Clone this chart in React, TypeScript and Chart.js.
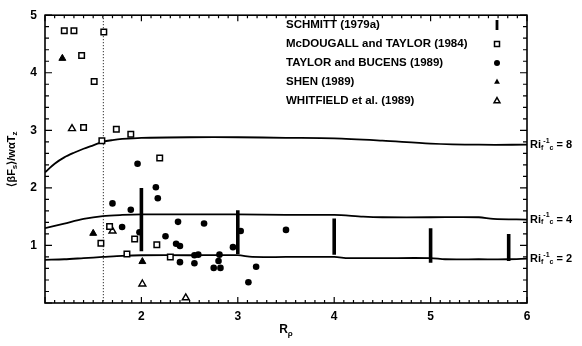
import React, { useEffect, useRef } from 'react';
import { Chart, registerables } from 'chart.js';

Chart.register(...registerables);

// Critical Richardson-number curves (R_rho vs flux ratio)
const ri8X = [1.0, 1.1, 1.2, 1.3, 1.4, 1.5, 1.6, 1.7, 1.8, 2.0, 2.5, 3.0, 3.5, 4.0, 4.5, 5.0, 5.5, 6.0];
const ri8Y = [2.27, 2.42, 2.53, 2.61, 2.68, 2.74, 2.80, 2.83, 2.85, 2.87, 2.88, 2.88, 2.87, 2.86, 2.82, 2.77, 2.75, 2.75];
const ri4X = [1.0, 1.2, 1.4, 1.6, 1.8, 2.0, 2.5, 3.0, 3.5, 4.0, 4.3, 4.5, 5.0, 5.5, 5.65, 6.0];
const ri4Y = [1.30, 1.38, 1.46, 1.51, 1.53, 1.54, 1.54, 1.54, 1.53, 1.53, 1.50, 1.49, 1.49, 1.49, 1.46, 1.45];
const ri2X = [1.0, 1.2, 1.4, 1.6, 1.8, 2.0, 2.5, 3.0, 3.15, 3.5, 4.0, 4.15, 4.5, 5.0, 5.15, 5.5, 5.8, 6.0];
const ri2Y = [0.75, 0.76, 0.78, 0.80, 0.82, 0.83, 0.83, 0.83, 0.80, 0.80, 0.80, 0.78, 0.78, 0.78, 0.76, 0.76, 0.76, 0.77];
const curveLabels = ['8', '4', '2'];

// SCHMITT (1979a) ranges
const schmittX = [2.0, 3.0, 4.0, 5.0, 5.81];
const schmittLow = [0.90, 0.85, 0.84, 0.70, 0.73];
const schmittHigh = [2.00, 1.61, 1.47, 1.30, 1.20];

// McDOUGALL and TAYLOR (1984)
const mcdX = [1.20, 1.30, 1.61, 1.38, 1.51, 1.40, 1.74, 1.89, 1.59, 2.19, 1.58, 1.67, 1.93, 1.85, 2.16, 2.30];
const mcdY = [4.73, 4.73, 4.71, 4.30, 3.85, 3.05, 3.02, 2.93, 2.82, 2.52, 1.04, 1.33, 1.11, 0.85, 1.01, 0.80];

// TAYLOR and BUCENS (1989)
const tbX = [1.96, 2.15, 2.17, 1.70, 1.89, 1.80, 1.98, 2.38, 2.65, 2.25, 2.36, 2.40, 2.40, 2.55, 2.59, 2.55, 2.81, 2.80, 2.75, 2.82, 2.95, 3.03, 3.11, 3.19, 3.50];
const tbY = [2.42, 2.01, 1.82, 1.73, 1.62, 1.32, 1.23, 1.41, 1.38, 1.16, 1.03, 0.99, 0.71, 0.83, 0.84, 0.69, 0.84, 0.73, 0.61, 0.61, 0.97, 1.25, 0.36, 0.63, 1.27];

// SHEN (1989)
const shenX = [1.18, 1.50, 2.01];
const shenY = [4.25, 1.21, 0.72];

// WHITFIELD et al. (1989)
const whitX = [1.28, 1.70, 2.01, 2.46];
const whitY = [3.03, 1.25, 0.33, 0.09];

const legendLabels = [
  'SCHMITT (1979a)',
  'McDOUGALL and TAYLOR (1984)',
  'TAYLOR and BUCENS (1989)',
  'SHEN (1989)',
  'WHITFIELD et al. (1989)',
];
const legendMarkers = ['bar', 'square', 'circle', 'tri', 'otri'];

const xTickValues = [1, 2, 3, 4, 5, 6];
const yTickValues = [0, 1, 2, 3, 4, 5];
const dividerX = 1.6;

const FAMILY = "'Liberation Sans', Arial, sans-serif";
const INK = '#000';

const pts = (xs: number[], ys: number[]) => xs.map((x, i) => ({ x, y: ys[i] }));

type Part = { t: string; size: number; dy: number };

function drawRich(ctx: CanvasRenderingContext2D, parts: Part[], x: number, y: number, align: 'left' | 'center') {
  let total = 0;
  for (const p of parts) {
    ctx.font = `bold ${p.size}px ${FAMILY}`;
    total += ctx.measureText(p.t).width;
  }
  let cx = align === 'center' ? x - total / 2 : x;
  ctx.textAlign = 'left';
  ctx.textBaseline = 'middle';
  for (const p of parts) {
    ctx.font = `bold ${p.size}px ${FAMILY}`;
    ctx.fillText(p.t, cx, y + p.dy);
    cx += ctx.measureText(p.t).width;
  }
}

function drawMarker(ctx: CanvasRenderingContext2D, kind: string, x: number, y: number) {
  ctx.save();
  ctx.fillStyle = INK;
  ctx.strokeStyle = INK;
  ctx.lineWidth = 1.5;
  if (kind === 'bar') {
    ctx.fillRect(x - 1.4, y - 5, 2.8, 10);
  } else if (kind === 'square') {
    ctx.strokeRect(x - 2.5, y - 2.5, 5, 5);
  } else if (kind === 'circle') {
    ctx.beginPath();
    ctx.arc(x, y, 3, 0, Math.PI * 2);
    ctx.fill();
  } else {
    const r = 3.4;
    ctx.beginPath();
    ctx.moveTo(x, y - r);
    ctx.lineTo(x + r * 0.866, y + r * 0.5);
    ctx.lineTo(x - r * 0.866, y + r * 0.5);
    ctx.closePath();
    if (kind === 'tri') ctx.fill();
    else ctx.stroke();
  }
  ctx.restore();
}

const decor = {
  id: 'figureDecor',
  beforeDatasetsDraw(chart: any) {
    const { ctx, chartArea } = chart;
    const xs = chart.scales.x;
    const px = xs.getPixelForValue(dividerX);
    ctx.save();
    ctx.strokeStyle = INK;
    ctx.lineWidth = 1;
    ctx.setLineDash([1, 2]);
    ctx.beginPath();
    ctx.moveTo(px + 0.5, chartArea.top);
    ctx.lineTo(px + 0.5, chartArea.bottom);
    ctx.stroke();
    ctx.restore();
  },
  afterDraw(chart: any) {
    const { ctx, chartArea } = chart;
    const xs = chart.scales.x;
    const ys = chart.scales.y;
    const { left, right, top, bottom } = chartArea;
    ctx.save();
    ctx.strokeStyle = INK;
    ctx.fillStyle = INK;

    // frame
    ctx.lineWidth = 1.6;
    ctx.strokeRect(left, top, right - left, bottom - top);

    // inward ticks on all four sides
    ctx.lineWidth = 1.2;
    ctx.beginPath();
    for (let i = 10; i <= 60; i++) {
      const v = i / 10;
      const major = i % 10 === 0;
      const len = major ? 6 : 3;
      const p = xs.getPixelForValue(v);
      ctx.moveTo(p, bottom);
      ctx.lineTo(p, bottom - len);
      ctx.moveTo(p, top);
      ctx.lineTo(p, top + len);
    }
    for (let i = 0; i <= 25; i++) {
      const v = i / 5;
      const major = i % 5 === 0;
      const len = major ? 7 : 4;
      const p = ys.getPixelForValue(v);
      ctx.moveTo(left, p);
      ctx.lineTo(left + len, p);
      ctx.moveTo(right, p);
      ctx.lineTo(right - len, p);
    }
    ctx.stroke();

    // axis titles
    const midX = (left + right) / 2;
    drawRich(ctx, [
      { t: 'R', size: 12, dy: 0 },
      { t: 'ρ', size: 8, dy: 4 },
    ], midX, 330, 'center');

    ctx.save();
    ctx.translate(12, (top + bottom) / 2);
    ctx.rotate(-Math.PI / 2);
    drawRich(ctx, [
      { t: '⟨βF', size: 11, dy: 0 },
      { t: 's', size: 8, dy: 3 },
      { t: '⟩/wαT', size: 11, dy: 0 },
      { t: 'z', size: 8, dy: 3 },
    ], 0, 0, 'center');
    ctx.restore();

    // curve labels at the right edge
    const ends = [ri8Y[ri8Y.length - 1], ri4Y[ri4Y.length - 1], ri2Y[ri2Y.length - 1]];
    ends.forEach((v, i) => {
      const py = ys.getPixelForValue(v);
      drawRich(ctx, [
        { t: 'Ri', size: 11, dy: 0 },
        { t: 'f', size: 7, dy: 3 },
        { t: '-1', size: 7, dy: -4 },
        { t: 'c', size: 7, dy: 3 },
        { t: ' = ' + curveLabels[i], size: 11, dy: 0 },
      ], right + 3, py, 'left');
    });

    // legend
    legendLabels.forEach((label, i) => {
      const ly = 25 + i * 19;
      ctx.font = `bold 11.5px ${FAMILY}`;
      ctx.textAlign = 'left';
      ctx.textBaseline = 'middle';
      ctx.fillText(label, 286, ly);
      drawMarker(ctx, legendMarkers[i], 497, ly);
    });
    ctx.restore();
  },
};

export default function App() {
  const ref = useRef<HTMLCanvasElement | null>(null);

  useEffect(() => {
    if (!ref.current) return;
    const curve = (xs: number[], ysv: number[]) => ({
      type: 'line' as const,
      data: pts(xs, ysv),
      showLine: true,
      borderColor: INK,
      borderWidth: 1.8,
      pointRadius: 0,
      tension: 0.3,
      fill: false,
      order: 3,
    });
    const bars = schmittX.map((x, i) => ({
      type: 'line' as const,
      data: [{ x, y: schmittLow[i] }, { x, y: schmittHigh[i] }],
      showLine: true,
      borderColor: INK,
      borderWidth: 3.6,
      borderCapStyle: 'butt' as const,
      pointRadius: 0,
      order: 2,
    }));
    const chart = new Chart(ref.current, {
      type: 'scatter',
      data: {
        datasets: [
          {
            data: pts(mcdX, mcdY),
            pointStyle: 'rect',
            pointRadius: 3.9,
            pointBorderWidth: 1.5,
            pointBackgroundColor: '#fff',
            pointBorderColor: INK,
            order: 1,
          },
          {
            data: pts(tbX, tbY),
            pointStyle: 'circle',
            pointRadius: 3.3,
            pointBorderWidth: 0,
            pointBackgroundColor: INK,
            pointBorderColor: INK,
            order: 1,
          },
          {
            data: pts(shenX, shenY),
            pointStyle: 'triangle',
            pointRadius: 4,
            pointBorderWidth: 1,
            pointBackgroundColor: INK,
            pointBorderColor: INK,
            order: 1,
          },
          {
            data: pts(whitX, whitY),
            pointStyle: 'triangle',
            pointRadius: 4,
            pointBorderWidth: 1.4,
            pointBackgroundColor: '#fff',
            pointBorderColor: INK,
            order: 1,
          },
          ...bars,
          curve(ri8X, ri8Y),
          curve(ri4X, ri4Y),
          curve(ri2X, ri2Y),
        ] as any,
      },
      options: {
        animation: false,
        responsive: false,
        devicePixelRatio: 1,
        layout: { padding: { top: 10, right: 55, left: 0, bottom: 0 } },
        plugins: { legend: { display: false }, tooltip: { enabled: false } },
        scales: {
          x: {
            type: 'linear',
            min: 1,
            max: 6,
            afterBuildTicks: (s: any) => {
              s.ticks = xTickValues.map((value) => ({ value }));
            },
            afterFit: (s: any) => {
              s.height = 43;
            },
            grid: { display: false, drawTicks: false },
            border: { display: false },
            ticks: {
              color: INK,
              padding: 6,
              font: { family: FAMILY, size: 12, weight: 'bold' },
              callback: (v: any) => (v === 1 ? '' : String(v)),
            },
          },
          y: {
            type: 'linear',
            min: 0,
            max: 5,
            afterBuildTicks: (s: any) => {
              s.ticks = yTickValues.map((value) => ({ value }));
            },
            afterFit: (s: any) => {
              s.width = 45;
            },
            grid: { display: false, drawTicks: false },
            border: { display: false },
            ticks: {
              color: INK,
              padding: 8,
              font: { family: FAMILY, size: 12, weight: 'bold' },
              callback: (v: any) => (v === 0 ? '' : String(v)),
            },
          },
        },
      } as any,
      plugins: [decor],
    });
    return () => chart.destroy();
  }, []);

  return (
    <div style={{ position: 'absolute', left: 0, top: 0, width: 582, height: 346, background: '#fff' }}>
      <canvas ref={ref} width={582} height={346} style={{ display: 'block' }} />
    </div>
  );
}
